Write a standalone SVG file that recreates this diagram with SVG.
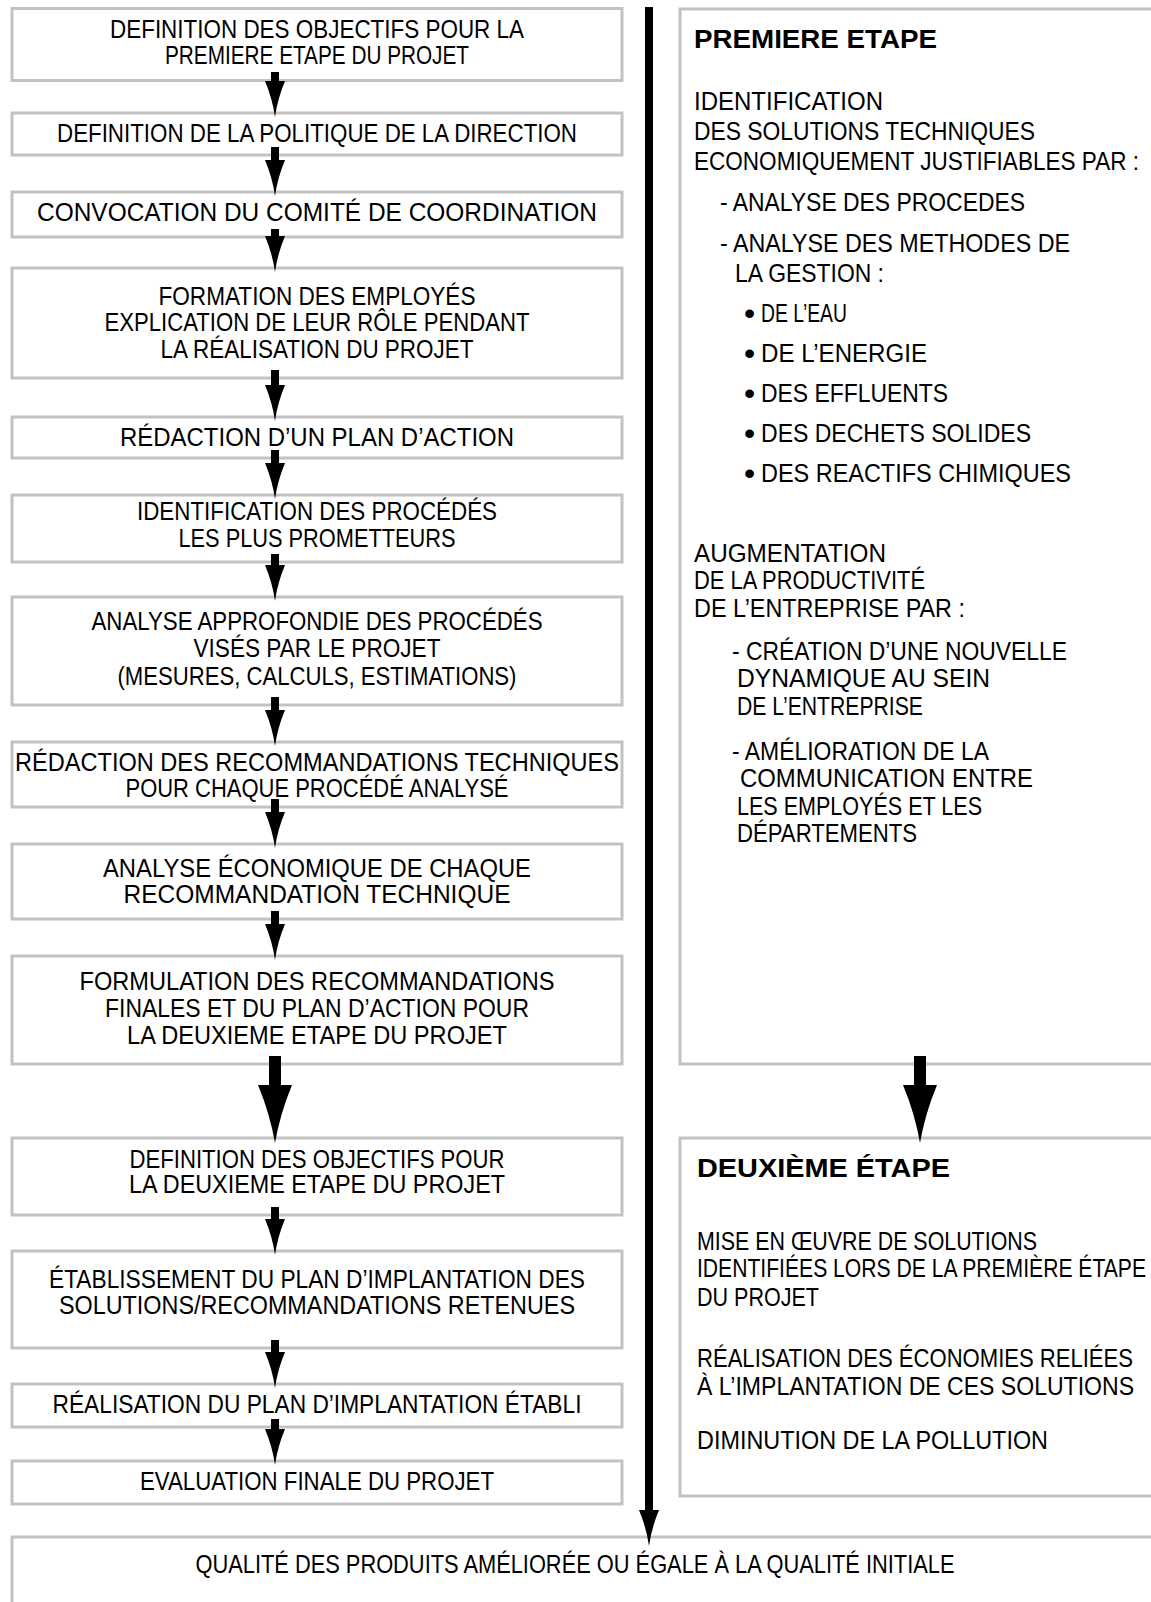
<svg xmlns="http://www.w3.org/2000/svg" width="1151" height="1602" viewBox="0 0 1151 1602">
<style>
.box{fill:#ffffff;stroke:#c2c2c2;stroke-width:3}
.t{font-family:"Liberation Sans",Arial,sans-serif;font-size:25px;fill:#000000}
.c{text-anchor:middle}
.h{font-family:"Liberation Sans",Arial,sans-serif;font-size:25px;font-weight:bold;fill:#000000}
.bu{font-size:32px}
.ln{stroke:#000000;fill:none}
</style>
<defs>
<marker id="head" markerUnits="userSpaceOnUse" markerWidth="36" markerHeight="20" refX="0" refY="10" orient="auto"><path d="M0,0 Q18,7.5 36,10 Q18,12.5 0,20 Z" fill="#000000"/></marker>
<marker id="bighead" markerUnits="userSpaceOnUse" markerWidth="58" markerHeight="34" refX="0" refY="17" orient="auto"><path d="M0,0 Q29,12 58,17 Q29,22 0,34 Z" fill="#000000"/></marker>
</defs>
<rect width="1151" height="1602" fill="#ffffff"/>

<g id="n1"><rect class="box" x="12" y="8.5" width="610" height="72"/>
<text class="t c" x="317" y="38" textLength="414" lengthAdjust="spacingAndGlyphs">DEFINITION DES OBJECTIFS POUR LA</text>
<text class="t c" x="317" y="64" textLength="304" lengthAdjust="spacingAndGlyphs">PREMIERE ETAPE DU PROJET</text></g>
<g id="n2"><rect class="box" x="12" y="113" width="610" height="42"/>
<text class="t c" x="317" y="142" textLength="520" lengthAdjust="spacingAndGlyphs">DEFINITION DE LA POLITIQUE DE LA DIRECTION</text></g>
<g id="n3"><rect class="box" x="12" y="192" width="610" height="45"/>
<text class="t c" x="317" y="221" textLength="560" lengthAdjust="spacingAndGlyphs">CONVOCATION DU COMITÉ DE COORDINATION</text></g>
<g id="n4"><rect class="box" x="12" y="268" width="610" height="110"/>
<text class="t c" x="317" y="305" textLength="317" lengthAdjust="spacingAndGlyphs">FORMATION DES EMPLOYÉS</text>
<text class="t c" x="317" y="331" textLength="425" lengthAdjust="spacingAndGlyphs">EXPLICATION DE LEUR RÔLE PENDANT</text>
<text class="t c" x="317" y="358" textLength="313" lengthAdjust="spacingAndGlyphs">LA RÉALISATION DU PROJET</text></g>
<g id="n5"><rect class="box" x="12" y="417" width="610" height="41"/>
<text class="t c" x="317" y="446" textLength="394" lengthAdjust="spacingAndGlyphs">RÉDACTION D’UN PLAN D’ACTION</text></g>
<g id="n6"><rect class="box" x="12" y="495" width="610" height="67"/>
<text class="t c" x="317" y="520" textLength="360" lengthAdjust="spacingAndGlyphs">IDENTIFICATION DES PROCÉDÉS</text>
<text class="t c" x="317" y="547" textLength="277" lengthAdjust="spacingAndGlyphs">LES PLUS PROMETTEURS</text></g>
<g id="n7"><rect class="box" x="12" y="597" width="610" height="108"/>
<text class="t c" x="317" y="630" textLength="451" lengthAdjust="spacingAndGlyphs">ANALYSE APPROFONDIE DES PROCÉDÉS</text>
<text class="t c" x="317" y="657" textLength="247" lengthAdjust="spacingAndGlyphs">VISÉS PAR LE PROJET</text>
<text class="t c" x="317" y="685" textLength="399" lengthAdjust="spacingAndGlyphs">(MESURES, CALCULS, ESTIMATIONS)</text></g>
<g id="n8"><rect class="box" x="12" y="742" width="610" height="65"/>
<text class="t c" x="317" y="771" textLength="604" lengthAdjust="spacingAndGlyphs">RÉDACTION DES RECOMMANDATIONS TECHNIQUES</text>
<text class="t c" x="317" y="797" textLength="383" lengthAdjust="spacingAndGlyphs">POUR CHAQUE PROCÉDÉ ANALYSÉ</text></g>
<g id="n9"><rect class="box" x="12" y="844" width="610" height="75"/>
<text class="t c" x="317" y="877" textLength="428" lengthAdjust="spacingAndGlyphs">ANALYSE ÉCONOMIQUE DE CHAQUE</text>
<text class="t c" x="317" y="903" textLength="387" lengthAdjust="spacingAndGlyphs">RECOMMANDATION TECHNIQUE</text></g>
<g id="n10"><rect class="box" x="12" y="956" width="610" height="108"/>
<text class="t c" x="317" y="990" textLength="475" lengthAdjust="spacingAndGlyphs">FORMULATION DES RECOMMANDATIONS</text>
<text class="t c" x="317" y="1017" textLength="424" lengthAdjust="spacingAndGlyphs">FINALES ET DU PLAN D’ACTION POUR</text>
<text class="t c" x="317" y="1044" textLength="380" lengthAdjust="spacingAndGlyphs">LA DEUXIEME ETAPE DU PROJET</text></g>
<g id="n11"><rect class="box" x="12" y="1138" width="610" height="77"/>
<text class="t c" x="317" y="1168" textLength="375" lengthAdjust="spacingAndGlyphs">DEFINITION DES OBJECTIFS POUR</text>
<text class="t c" x="317" y="1193" textLength="376" lengthAdjust="spacingAndGlyphs">LA DEUXIEME ETAPE DU PROJET</text></g>
<g id="n12"><rect class="box" x="12" y="1251" width="610" height="97"/>
<text class="t c" x="317" y="1288" textLength="536" lengthAdjust="spacingAndGlyphs">ÉTABLISSEMENT DU PLAN D’IMPLANTATION DES</text>
<text class="t c" x="317" y="1314" textLength="516" lengthAdjust="spacingAndGlyphs">SOLUTIONS/RECOMMANDATIONS RETENUES</text></g>
<g id="n13"><rect class="box" x="12" y="1384" width="610" height="43"/>
<text class="t c" x="317" y="1413" textLength="529" lengthAdjust="spacingAndGlyphs">RÉALISATION DU PLAN D’IMPLANTATION ÉTABLI</text></g>
<g id="n14"><rect class="box" x="12" y="1461" width="610" height="43"/>
<text class="t c" x="317" y="1490" textLength="354" lengthAdjust="spacingAndGlyphs">EVALUATION FINALE DU PROJET</text></g>
<g id="n15"><rect class="box" x="12" y="1537" width="1160" height="100"/>
<text class="t c" x="575" y="1573" textLength="759" lengthAdjust="spacingAndGlyphs">QUALITÉ DES PRODUITS AMÉLIORÉE OU ÉGALE À LA QUALITÉ INITIALE</text></g>

<g id="r1"><rect class="box" x="680" y="9" width="500" height="1055"/>
<text class="h" x="694" y="48" textLength="243" lengthAdjust="spacingAndGlyphs">PREMIERE ETAPE</text>
<text class="t" x="694" y="110" textLength="189" lengthAdjust="spacingAndGlyphs">IDENTIFICATION</text>
<text class="t" x="694" y="140" textLength="341" lengthAdjust="spacingAndGlyphs">DES SOLUTIONS TECHNIQUES</text>
<text class="t" x="694" y="170" textLength="445" lengthAdjust="spacingAndGlyphs">ECONOMIQUEMENT JUSTIFIABLES PAR :</text>
<text class="t" x="720" y="211" textLength="305" lengthAdjust="spacingAndGlyphs">- ANALYSE DES PROCEDES</text>
<text class="t" x="720" y="252" textLength="350" lengthAdjust="spacingAndGlyphs">- ANALYSE DES METHODES DE</text>
<text class="t" x="735" y="282" textLength="149" lengthAdjust="spacingAndGlyphs">LA GESTION :</text>
<text class="t" y="322"><tspan class="bu" x="744" dy="2">•</tspan><tspan x="761" y="322" textLength="86" lengthAdjust="spacingAndGlyphs">DE L’EAU</tspan></text>
<text class="t" y="362"><tspan class="bu" x="744" dy="2">•</tspan><tspan x="761" y="362" textLength="166" lengthAdjust="spacingAndGlyphs">DE L’ENERGIE</tspan></text>
<text class="t" y="402"><tspan class="bu" x="744" dy="2">•</tspan><tspan x="761" y="402" textLength="187" lengthAdjust="spacingAndGlyphs">DES EFFLUENTS</tspan></text>
<text class="t" y="442"><tspan class="bu" x="744" dy="2">•</tspan><tspan x="761" y="442" textLength="270" lengthAdjust="spacingAndGlyphs">DES DECHETS SOLIDES</tspan></text>
<text class="t" y="482"><tspan class="bu" x="744" dy="2">•</tspan><tspan x="761" y="482" textLength="310" lengthAdjust="spacingAndGlyphs">DES REACTIFS CHIMIQUES</tspan></text>
<text class="t" x="694" y="562" textLength="192" lengthAdjust="spacingAndGlyphs">AUGMENTATION</text>
<text class="t" x="694" y="589" textLength="231" lengthAdjust="spacingAndGlyphs">DE LA PRODUCTIVITÉ</text>
<text class="t" x="694" y="617" textLength="271" lengthAdjust="spacingAndGlyphs">DE L’ENTREPRISE PAR :</text>
<text class="t" x="732" y="660" textLength="335" lengthAdjust="spacingAndGlyphs">- CRÉATION D’UNE NOUVELLE</text>
<text class="t" x="737" y="687" textLength="253" lengthAdjust="spacingAndGlyphs">DYNAMIQUE AU SEIN</text>
<text class="t" x="737" y="715" textLength="186" lengthAdjust="spacingAndGlyphs">DE L’ENTREPRISE</text>
<text class="t" x="732" y="760" textLength="257" lengthAdjust="spacingAndGlyphs">- AMÉLIORATION DE LA</text>
<text class="t" x="740" y="787" textLength="293" lengthAdjust="spacingAndGlyphs">COMMUNICATION ENTRE</text>
<text class="t" x="737" y="815" textLength="245" lengthAdjust="spacingAndGlyphs">LES EMPLOYÉS ET LES</text>
<text class="t" x="737" y="842" textLength="180" lengthAdjust="spacingAndGlyphs">DÉPARTEMENTS</text></g>

<g id="r2"><rect class="box" x="680" y="1138" width="500" height="358"/>
<text class="h" x="697" y="1177" textLength="253" lengthAdjust="spacingAndGlyphs">DEUXIÈME ÉTAPE</text>
<text class="t" x="697" y="1250" textLength="340" lengthAdjust="spacingAndGlyphs">MISE EN ŒUVRE DE SOLUTIONS</text>
<text class="t" x="697" y="1277" textLength="449" lengthAdjust="spacingAndGlyphs">IDENTIFIÉES LORS DE LA PREMIÈRE ÉTAPE</text>
<text class="t" x="697" y="1306" textLength="122" lengthAdjust="spacingAndGlyphs">DU PROJET</text>
<text class="t" x="697" y="1367" textLength="436" lengthAdjust="spacingAndGlyphs">RÉALISATION DES ÉCONOMIES RELIÉES</text>
<text class="t" x="697" y="1395" textLength="437" lengthAdjust="spacingAndGlyphs">À L’IMPLANTATION DE CES SOLUTIONS</text>
<text class="t" x="697" y="1449" textLength="351" lengthAdjust="spacingAndGlyphs">DIMINUTION DE LA POLLUTION</text></g>

<g id="connectors" class="ln">
<line x1="275" y1="72" x2="275" y2="81" stroke-width="8" marker-end="url(#head)"/>
<line x1="275" y1="147" x2="275" y2="160" stroke-width="8" marker-end="url(#head)"/>
<line x1="275" y1="229" x2="275" y2="236" stroke-width="8" marker-end="url(#head)"/>
<line x1="275" y1="370" x2="275" y2="385" stroke-width="8" marker-end="url(#head)"/>
<line x1="275" y1="450" x2="275" y2="463" stroke-width="8" marker-end="url(#head)"/>
<line x1="275" y1="554" x2="275" y2="565" stroke-width="8" marker-end="url(#head)"/>
<line x1="275" y1="697" x2="275" y2="710" stroke-width="8" marker-end="url(#head)"/>
<line x1="275" y1="799" x2="275" y2="812" stroke-width="8" marker-end="url(#head)"/>
<line x1="275" y1="911" x2="275" y2="924" stroke-width="8" marker-end="url(#head)"/>
<line x1="275" y1="1056" x2="275" y2="1085" stroke-width="12" marker-end="url(#bighead)"/>
<line x1="275" y1="1207" x2="275" y2="1219" stroke-width="8" marker-end="url(#head)"/>
<line x1="275" y1="1340" x2="275" y2="1352" stroke-width="8" marker-end="url(#head)"/>
<line x1="275" y1="1419" x2="275" y2="1429" stroke-width="8" marker-end="url(#head)"/>
<line x1="649" y1="7" x2="649" y2="1510" stroke-width="8" marker-end="url(#head)"/>
<line x1="920" y1="1056" x2="920" y2="1085" stroke-width="12" marker-end="url(#bighead)"/>
</g>
</svg>
